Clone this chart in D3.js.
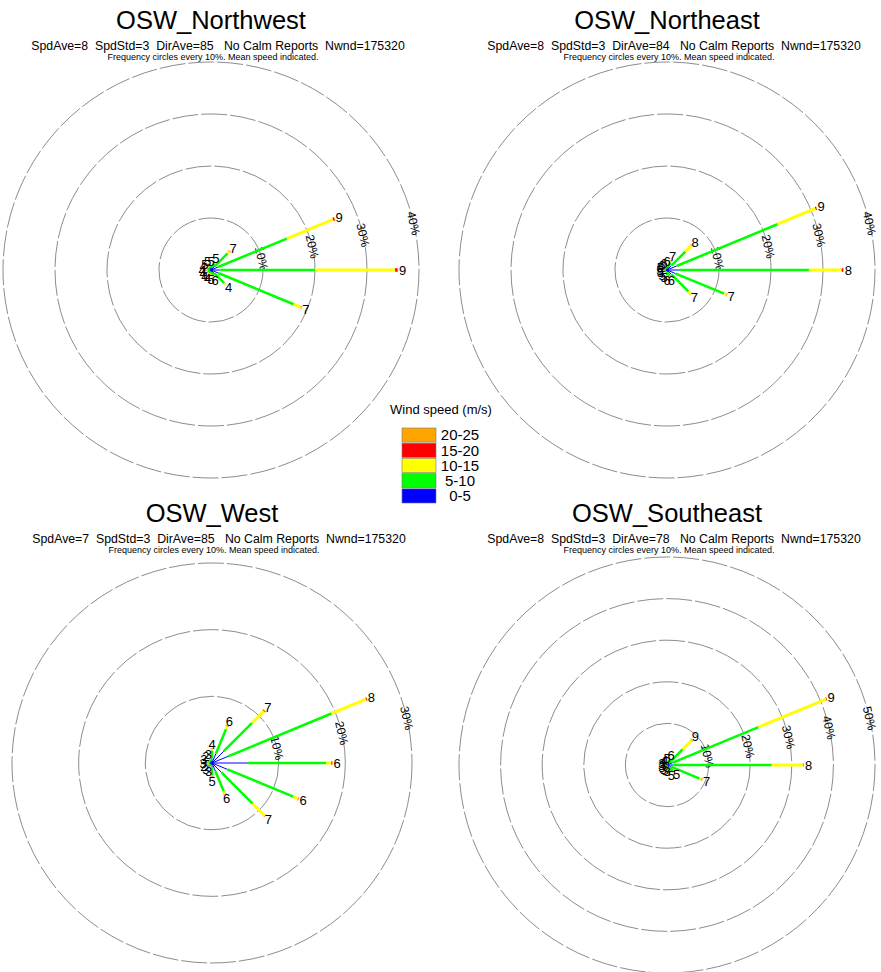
<!DOCTYPE html>
<html>
<head>
  <meta charset="utf-8">
  <title>OSW wind roses</title>
  <script src="https://cdn.jsdelivr.net/npm/d3@7"></script>
  <style>
    body { margin: 0; background: #fff; }
    text { font-family: "Liberation Sans", Arial, Helvetica, sans-serif; fill: #000; }
  </style>
</head>
<body>
  <div id="rose_area"></div>
<script>
  // 16 compass sectors, degrees clockwise from north (direction the wind blows from)
  const directions = [0, 22.5, 45, 67.5, 90, 112.5, 135, 157.5, 180, 202.5, 225, 247.5, 270, 292.5, 315, 337.5];
  const speedBins = ["0-5", "5-10", "10-15", "15-20", "20-25"];

  // percent frequency per sector, one array per speed bin (order N, NNE, NE ... NNW)
  // OSW_Northwest
  const nw0_5   = [0.35, 0.5, 1.0, 1.5, 1.8, 1.5, 1.0, 0.45, 0.35, 0.3, 0.3, 0.3, 0.3, 0.3, 0.3, 0.35];
  const nw5_10  = [0.4, 0.85, 3.5, 14.3, 18.2, 15.7, 2.6, 0.6, 0.4, 0.35, 0.35, 0.35, 0.4, 0.35, 0.35, 0.4];
  const nw10_15 = [0.1, 0.2, 0.5, 9.6, 15.4, 1.6, 0.25, 0.12, 0.1, 0.1, 0.1, 0.1, 0.1, 0.1, 0.1, 0.07];
  const nw15_20 = [0.03, 0.03, 0.05, 0.3, 0.5, 0.05, 0.02, 0.02, 0.03, 0.03, 0.03, 0.03, 0.03, 0.03, 0.03, 0.02];
  const nw20_25 = [0.02, 0.02, 0.1, 0.1, 0.1, 0.05, 0.03, 0.01, 0.02, 0.02, 0.02, 0.02, 0.02, 0.02, 0.02, 0.01];
  const nwMean  = [5, 5, 7, 9, 9, 7, 4, 6, 5, 4, 4, 4, 4, 4, 5, 5];

  // OSW_Northeast
  const ne0_5   = [0.3, 0.6, 1.2, 2.0, 2.5, 1.8, 1.2, 0.5, 0.45, 0.25, 0.22, 0.22, 0.22, 0.22, 0.23, 0.25];
  const ne5_10  = [0.35, 1.0, 3.8, 21.0, 24.8, 10.1, 4.6, 0.7, 0.55, 0.25, 0.22, 0.22, 0.22, 0.22, 0.25, 0.3];
  const ne10_15 = [0.05, 0.3, 1.7, 7.9, 6.3, 0.5, 0.7, 0.05, 0.06, 0.03, 0.03, 0.03, 0.03, 0.03, 0.03, 0.04];
  const ne15_20 = [0.02, 0.05, 0.05, 0.2, 0.3, 0.05, 0.05, 0.03, 0.02, 0.02, 0.02, 0.02, 0.02, 0.02, 0.02, 0.02];
  const ne20_25 = [0.02, 0.05, 0.05, 0.1, 0.1, 0.05, 0.05, 0.02, 0.02, 0.01, 0.01, 0.01, 0.01, 0.01, 0.01, 0.01];
  const neMean  = [6, 7, 8, 9, 8, 7, 7, 6, 6, 5, 5, 5, 5, 5, 6, 6];

  // OSW_West
  const w0_5    = [0.7, 1.5, 2.5, 2.6, 5.4, 2.5, 2.0, 1.3, 0.7, 0.3, 0.3, 0.3, 0.3, 0.3, 0.3, 0.32];
  const w5_10   = [1.2, 4.0, 6.0, 16.8, 11.7, 10.7, 6.6, 3.3, 1.2, 0.25, 0.25, 0.25, 0.25, 0.25, 0.25, 0.28];
  const w10_15  = [0.2, 0.5, 2.5, 5.6, 0.8, 0.8, 2.6, 0.4, 0.1, 0.05, 0.05, 0.05, 0.05, 0.05, 0.05, 0.06];
  const w15_20  = [0.07, 0.05, 0.1, 0.15, 0.15, 0.05, 0.05, 0.05, 0.05, 0.03, 0.03, 0.03, 0.03, 0.03, 0.03, 0.03];
  const w20_25  = [0.03, 0.05, 0.1, 0.05, 0.05, 0.05, 0.05, 0.05, 0.05, 0.02, 0.02, 0.02, 0.02, 0.02, 0.02, 0.02];
  const wMean   = [4, 6, 7, 8, 6, 6, 7, 6, 5, 3, 3, 2, 3, 3, 2, 3];

  // OSW_Southeast
  const se0_5   = [0.2, 0.5, 0.8, 1.5, 1.5, 1.0, 0.7, 0.6, 0.2, 0.1, 0.1, 0.1, 0.1, 0.1, 0.1, 0.1];
  const se5_10  = [0.2, 0.8, 4.5, 22.3, 23.7, 7.5, 1.3, 0.9, 0.18, 0.1, 0.1, 0.1, 0.1, 0.1, 0.1, 0.1];
  const se10_15 = [0.03, 0.1, 3.1, 17.6, 7.6, 0.5, 0.1, 0.05, 0.02, 0.02, 0.02, 0.02, 0.02, 0.02, 0.02, 0.02];
  const se15_20 = [0.02, 0.05, 0.1, 0.15, 0.1, 0.1, 0.05, 0.03, 0.01, 0.01, 0.01, 0.01, 0.01, 0.01, 0.01, 0.01];
  const se20_25 = [0.01, 0.05, 0.1, 0.05, 0.05, 0.1, 0.05, 0.02, 0.01, 0.01, 0.01, 0.01, 0.01, 0.01, 0.01, 0.01];
  const seMean  = [5, 6, 9, 9, 8, 7, 5, 5, 3, 3, 3, 3, 3, 3, 4, 4];

  const binColors = ["#0000ff", "#00ff00", "#ffff00", "#ff0000", "#ffa500"];
  const binWidths = [1, 2.5, 3, 3.5, 3.5];

  const panels = [
    {title: "OSW_Northwest", stats: "SpdAve=8  SpdStd=3  DirAve=85   No Calm Reports  Nwnd=175320",
     cx: 211, cy: 270, top: 0, outerR: 208, maxPct: 40,
     bins: [nw0_5, nw5_10, nw10_15, nw15_20, nw20_25], mean: nwMean},
    {title: "OSW_Northeast", stats: "SpdAve=8  SpdStd=3  DirAve=84   No Calm Reports  Nwnd=175320",
     cx: 667, cy: 270, top: 0, outerR: 208, maxPct: 40,
     bins: [ne0_5, ne5_10, ne10_15, ne15_20, ne20_25], mean: neMean},
    {title: "OSW_West", stats: "SpdAve=7  SpdStd=3  DirAve=85   No Calm Reports  Nwnd=175320",
     cx: 212, cy: 763, top: 493, outerR: 200, maxPct: 30,
     bins: [w0_5, w5_10, w10_15, w15_20, w20_25], mean: wMean},
    {title: "OSW_Southeast", stats: "SpdAve=8  SpdStd=3  DirAve=78   No Calm Reports  Nwnd=175320",
     cx: 667, cy: 765, top: 493, outerR: 208, maxPct: 50,
     bins: [se0_5, se5_10, se10_15, se15_20, se20_25], mean: seMean}
  ];

  const svg = d3.select("#rose_area")
    .append("svg")
      .attr("width", 881)
      .attr("height", 972);

  svg.append("rect")
    .attr("width", 881).attr("height", 972)
    .attr("fill", "#fff");

  const rad = deg => deg * Math.PI / 180;
  const ringLabelAngle = 77;

  panels.forEach(p => {
    // titles
    svg.append("text")
      .attr("x", p.cx).attr("y", p.top + 29)
      .attr("text-anchor", "middle")
      .style("font-size", "25.5px")
      .text(p.title);
    svg.append("text")
      .attr("x", p.cx + 7).attr("y", p.top + 49.5)
      .attr("text-anchor", "middle")
      .style("font-size", "12.3px")
      .style("white-space", "pre")
      .text(p.stats);
    svg.append("text")
      .attr("x", p.cx + 2).attr("y", p.top + 59.5)
      .attr("text-anchor", "middle")
      .style("font-size", "9px")
      .text("Frequency circles every 10%. Mean speed indicated.");

    const g = svg.append("g")
      .attr("transform", "translate(" + p.cx + "," + p.cy + ")");

    // radial scale: percent frequency -> pixels
    const r = d3.scaleLinear()
      .domain([0, p.maxPct])
      .range([0, p.outerR]);

    const rings = d3.range(10, p.maxPct + 1, 10);

    g.selectAll(".ring")
      .data(rings)
      .join("circle")
        .attr("class", "ring")
        .attr("r", d => r(d))
        .attr("fill", "none")
        .attr("stroke", "#6e6e6e")
        .attr("stroke-width", 0.8)
        .attr("stroke-dasharray", "26,3");

    g.selectAll(".ringlab")
      .data(rings)
      .join("text")
        .attr("class", "ringlab")
        .attr("transform", d => {
          const [x, y] = d3.pointRadial(rad(ringLabelAngle), r(d));
          return "translate(" + x + "," + y + ") rotate(" + ringLabelAngle + ")";
        })
        .attr("text-anchor", "middle")
        .attr("dy", "0.35em")
        .style("font-size", "12px")
        .text(d => d + "%");

    // stack the speed bins outward along each sector
    const petals = directions.map((dir, i) => {
      let cum = 0;
      const segs = p.bins.map((bin, k) => {
        const s = {k: k, from: cum, to: cum + bin[i]};
        cum += bin[i];
        return s;
      });
      return {dir: dir, segs: segs, total: cum, mean: p.mean[i]};
    });

    const petalG = g.selectAll(".petal")
      .data(petals)
      .join("g")
        .attr("class", "petal");

    petalG.selectAll("line")
      .data(d => d.segs.map(s => Object.assign({dir: d.dir}, s)))
      .join("line")
        .attr("x1", d => d3.pointRadial(rad(d.dir), r(d.from))[0])
        .attr("y1", d => d3.pointRadial(rad(d.dir), r(d.from))[1])
        .attr("x2", d => d3.pointRadial(rad(d.dir), r(d.to))[0])
        .attr("y2", d => d3.pointRadial(rad(d.dir), r(d.to))[1])
        .attr("stroke", d => binColors[d.k])
        .attr("stroke-width", d => binWidths[d.k]);

    g.selectAll(".meanlab")
      .data(petals)
      .join("text")
        .attr("class", "meanlab")
        .attr("x", d => d3.pointRadial(rad(d.dir), r(d.total) + 4.5)[0])
        .attr("y", d => d3.pointRadial(rad(d.dir), r(d.total) + 4.5)[1])
        .attr("text-anchor", "middle")
        .attr("dy", "0.36em")
        .style("font-size", "13px")
        .text(d => d.mean);
  });

  // legend
  const legend = svg.append("g");
  legend.append("text")
    .attr("x", 441).attr("y", 414)
    .attr("text-anchor", "middle")
    .style("font-size", "13px")
    .text("Wind speed (m/s)");

  const legendOrder = d3.range(speedBins.length).reverse();
  const ly = d3.scaleBand()
    .domain(legendOrder)
    .range([428, 503])
    .paddingInner(0.07);

  legend.selectAll("rect.key")
    .data(legendOrder)
    .join("rect")
      .attr("class", "key")
      .attr("x", 402)
      .attr("y", d => ly(d))
      .attr("width", 34)
      .attr("height", ly.bandwidth())
      .attr("fill", d => binColors[d])
      .attr("stroke", "#777")
      .attr("stroke-width", 0.6);

  legend.selectAll("text.key")
    .data(legendOrder)
    .join("text")
      .attr("class", "key")
      .attr("x", 460)
      .attr("y", d => ly(d) + ly.bandwidth() / 2)
      .attr("dy", "0.36em")
      .attr("text-anchor", "middle")
      .style("font-size", "15px")
      .text(d => speedBins[d]);
</script>
</body>
</html>
